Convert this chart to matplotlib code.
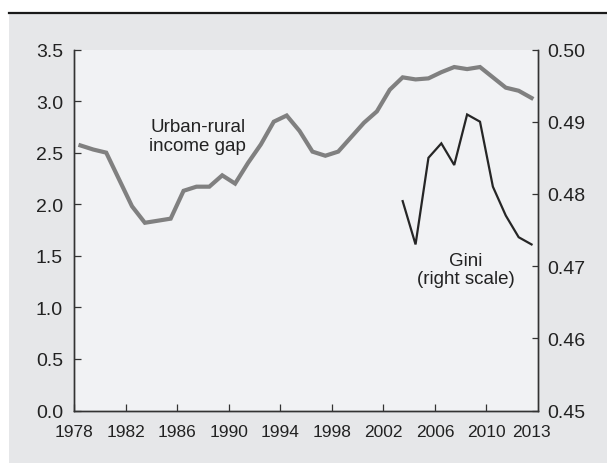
import matplotlib
matplotlib.use("Agg")
import matplotlib.pyplot as plt
from matplotlib import font_manager
from matplotlib.patches import Rectangle
from matplotlib.lines import Line2D

# ── Data ──────────────────────────────────────────────────────────────────────
years = list(range(1978, 2014))
income_gap = [2.57, 2.53, 2.50, 2.24, 1.98, 1.82, 1.84, 1.86, 2.13, 2.17,
              2.17, 2.28, 2.20, 2.40, 2.58, 2.80, 2.86, 2.71, 2.51, 2.47,
              2.51, 2.65, 2.79, 2.90, 3.11, 3.23, 3.21, 3.22, 3.28, 3.33,
              3.31, 3.33, 3.23, 3.13, 3.10, 3.03]

gini_years = list(range(2003, 2014))
gini = [0.479, 0.473, 0.485, 0.487, 0.484, 0.491, 0.490, 0.481, 0.477,
        0.474, 0.473]

xtick_labels = ["1978", "1982", "1986", "1990", "1994", "1998", "2002",
                "2006", "2010", "2013"]
left_ticks = [0.0, 0.5, 1.0, 1.5, 2.0, 2.5, 3.0, 3.5]
right_ticks = [0.45, 0.46, 0.47, 0.48, 0.49, 0.50]

# ── Aesthetics ────────────────────────────────────────────────────────────────
PANEL_BG = "#e6e7e9"
AXES_BG = "#f1f2f4"
GAP_COLOR = "#808080"
GINI_COLOR = "#262626"
TEXT_COLOR = "#222222"
SPINE_COLOR = "#333333"

plt.rcParams.update({
    "font.family": ["Liberation Sans", "DejaVu Sans"],
    "text.color": TEXT_COLOR,
    "xtick.color": SPINE_COLOR,
    "ytick.color": SPINE_COLOR,
    "xtick.labelcolor": TEXT_COLOR,
    "ytick.labelcolor": TEXT_COLOR,
})

# year labels are set in a condensed face when one is installed
installed = {f.name for f in font_manager.fontManager.ttflist}
narrow = None
for cand in ("Liberation Sans Narrow", "DejaVu Sans Condensed"):
    if cand in installed:
        narrow = cand
        break
if narrow:
    xfont, xsize = [narrow, "Liberation Sans"], 13.5
else:
    xfont, xsize = ["Liberation Sans"], 12.5

W, H = 607, 464
fig = plt.figure(figsize=(W / 100, H / 100), dpi=100, facecolor="white")

# outer gray panel and top rule (behind the axes)
fig.patches.append(Rectangle((9 / W, 0), 1 - 9 / W, (H - 15) / H,
                             transform=fig.transFigure, facecolor=PANEL_BG,
                             edgecolor="none", zorder=-10))
fig.lines.append(Line2D([9 / W, 1], [(H - 13.5) / H] * 2,
                        transform=fig.transFigure, color="#1a1a1a",
                        linewidth=1.6, zorder=-5))

ax = fig.add_axes([74 / W, 52.5 / H, 464 / W, 361 / H])
ax.set_facecolor(AXES_BG)
ax2 = ax.twinx()

ax.plot(years, income_gap, color=GAP_COLOR, linewidth=3.0,
        solid_joinstyle="miter", zorder=3)
ax2.plot(gini_years, gini, color=GINI_COLOR, linewidth=1.6,
         solid_joinstyle="miter", zorder=3)

ax.set_xlim(1977.5, 2013.5)
ax.set_ylim(0, 3.5)
ax2.set_ylim(0.45, 0.50)

xticks = [1977.5 + 4 * k for k in range(9)] + [2013.0]
ax.set_xticks(xticks)
ax.set_xticklabels(xtick_labels, fontsize=xsize, family=xfont)
ax.xaxis.get_major_ticks()[-1].tick1line.set_visible(False)
ax.tick_params(axis="x", direction="in", length=5, width=0.9, pad=10)

ax.set_yticks(left_ticks)
ax.set_yticklabels([f"{v:.1f}" for v in left_ticks], fontsize=14)
ax.tick_params(axis="y", direction="in", length=5, width=0.9, pad=8)

ax2.set_yticks(right_ticks)
ax2.set_yticklabels([f"{v:.2f}" for v in right_ticks], fontsize=14)
ax2.tick_params(axis="y", direction="in", length=4, width=0.9, pad=7)

for a in (ax, ax2):
    a.spines["top"].set_visible(False)
    for s in ("left", "right", "bottom"):
        a.spines[s].set_color(SPINE_COLOR)
        a.spines[s].set_linewidth(1.0)

ax.text(1987.1, 2.66, "Urban-rural\nincome gap", ha="center", va="center",
        fontsize=13.5, linespacing=1.1)
ax2.text(2007.9, 0.4695, "Gini\n(right scale)", ha="center", va="center",
         fontsize=13.5, linespacing=1.1)

fig.savefig("out.png", dpi=100, facecolor="white")
